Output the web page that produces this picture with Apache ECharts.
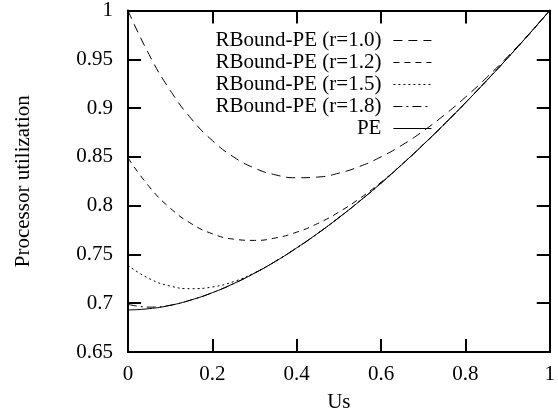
<!DOCTYPE html>
<html>
<head>
<meta charset="utf-8">
<script src="https://cdn.jsdelivr.net/npm/echarts@6/dist/echarts.min.js"></script>
<style>
html,body{margin:0;padding:0;background:#fff;}
#chart{width:558px;height:418px;}
</style>
</head>
<body>
<div id="chart"></div>
<script>
// Us values (x)
const us = [0, 0.05, 0.10, 0.15, 0.20, 0.25, 0.30, 0.35, 0.40, 0.45, 0.50,
            0.55, 0.60, 0.65, 0.70, 0.75, 0.80, 0.85, 0.90, 0.95, 1.00];
// Series values
const rb10 = [1.0000, 0.9548, 0.9182, 0.8891, 0.8667, 0.8500, 0.8385, 0.8315, 0.8286, 0.8293, 0.8333,
              0.8403, 0.8500, 0.8621, 0.8765, 0.8929, 0.9111, 0.9311, 0.9526, 0.9756, 1.0000];
const rb12 = [0.8490, 0.8196, 0.7975, 0.7816, 0.7712, 0.7657, 0.7644, 0.7669, 0.7728, 0.7817, 0.7934,
              0.8076, 0.8240, 0.8424, 0.8625, 0.8835, 0.9054, 0.9280, 0.9513, 0.9753, 1.0000];
const rb15 = [0.7388, 0.7253, 0.7176, 0.7149, 0.7166, 0.7221, 0.7311, 0.7430, 0.7567, 0.7716, 0.7877,
              0.8049, 0.8231, 0.8424, 0.8625, 0.8835, 0.9054, 0.9280, 0.9513, 0.9753, 1.0000];
const rb18 = [0.6989, 0.6960, 0.6979, 0.7034, 0.7108, 0.7200, 0.7308, 0.7430, 0.7567, 0.7716, 0.7877,
              0.8049, 0.8231, 0.8424, 0.8625, 0.8835, 0.9054, 0.9280, 0.9513, 0.9753, 1.0000];
const pe   = [0.6931, 0.6944, 0.6978, 0.7034, 0.7108, 0.7200, 0.7308, 0.7430, 0.7567, 0.7716, 0.7877,
              0.8049, 0.8231, 0.8424, 0.8625, 0.8835, 0.9054, 0.9280, 0.9513, 0.9753, 1.0000];
const seriesNames = ['RBound-PE (r=1.0)', 'RBound-PE (r=1.2)', 'RBound-PE (r=1.5)', 'RBound-PE (r=1.8)', 'PE'];
const xTicks = [0, 0.2, 0.4, 0.6, 0.8, 1];
const yTicks = [0.65, 0.7, 0.75, 0.8, 0.85, 0.9, 0.95, 1];

const FONT = 'Liberation Serif';
const pair = arr => us.map((x, i) => [x, arr[i]]);
const dashes = [[9, 6], [6, 5], [2, 3], [9, 4, 2, 4], 'solid'];
const allData = [rb10, rb12, rb15, rb18, pe];

const axisCommon = {
  axisLine: {show: true, onZero: false, lineStyle: {color: '#000', width: 2}},
  axisTick: {show: true, inside: true, length: 13, lineStyle: {color: '#000', width: 2}},
  splitLine: {show: false}
};

const chart = echarts.init(document.getElementById('chart'), null, {renderer: 'canvas'});
chart.setOption({
  backgroundColor: '#fff',
  animation: false,
  grid: {left: 128, right: 1, top: 9, bottom: 56, containLabel: false},
  legend: {
    data: seriesNames,
    orient: 'vertical',
    right: 121,
    top: 25,
    align: 'right',
    itemWidth: 38,
    itemHeight: 14,
    itemGap: 1,
    itemStyle: {opacity: 0},
    lineStyle: {width: 1.2},
    textStyle: {fontFamily: FONT, fontSize: 21, color: '#000', padding: [0, 7, 0, 0]}
  },
  xAxis: [
    Object.assign({
      type: 'value', min: 0, max: 1, interval: 0.2, position: 'bottom',
      name: 'Us', nameLocation: 'middle', nameGap: 40,
      nameTextStyle: {fontFamily: FONT, fontSize: 21, color: '#000'},
      axisLabel: {fontFamily: FONT, fontSize: 21, color: '#000', margin: 12,
                  formatter: v => xTicks.includes(+v.toFixed(2)) ? String(+v.toFixed(2)) : ''}
    }, axisCommon),
    Object.assign({
      type: 'value', min: 0, max: 1, interval: 0.2, position: 'top',
      axisLabel: {show: false}
    }, axisCommon)
  ],
  yAxis: [
    Object.assign({
      type: 'value', min: 0.65, max: 1, interval: 0.05, position: 'left',
      name: 'Processor utilization', nameLocation: 'middle', nameGap: 94,
      nameTextStyle: {fontFamily: FONT, fontSize: 21, color: '#000'},
      axisLabel: {fontFamily: FONT, fontSize: 21, color: '#000', margin: 15,
                  formatter: v => { const s = +v.toFixed(2); return yTicks.includes(s) ? String(s) : ''; }}
    }, axisCommon),
    Object.assign({
      type: 'value', min: 0.65, max: 1, interval: 0.05, position: 'right',
      axisLabel: {show: false}
    }, axisCommon)
  ],
  series: seriesNames.map((name, i) => ({
    name: name,
    type: 'line',
    data: pair(allData[i]),
    smooth: true,
    symbol: 'none',
    showSymbol: false,
    color: '#000',
    lineStyle: {color: '#000', width: 1, type: dashes[i]},
    z: i === 4 ? 5 : 3
  }))
});
</script>
</body>
</html>
